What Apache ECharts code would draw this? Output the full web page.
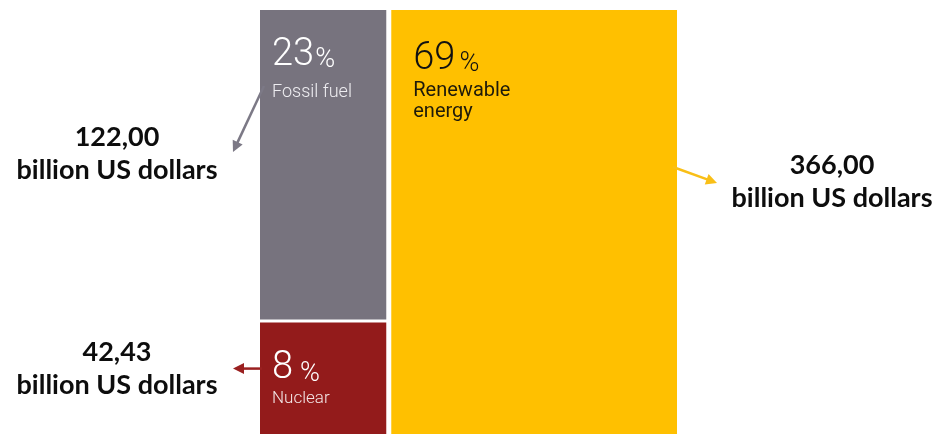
<!DOCTYPE html>
<html>
<head>
<meta charset="utf-8">
<script src="https://cdn.jsdelivr.net/npm/echarts@6/dist/echarts.min.js"></script>
<style>
  html, body { margin: 0; padding: 0; background: #ffffff; }
  #chart { width: 941px; height: 434px; }
</style>
</head>
<body>
<div id="chart"></div>
<script>
// ---- data ----
const categories = ['Fossil fuel', 'Nuclear', 'Renewable energy'];
const boxLabels = ['Fossil fuel', 'Nuclear', 'Renewable\nenergy'];
const valuesBn = [122.00, 42.43, 366.00];
const shareLabels = ['23', '8', '69'];
const amountLabels = ['122,00', '42,43', '366,00'];
const unitLabel = 'billion US dollars';

// ---- styles (per category) ----
const styles = [
  { color: '#77737e', text: '#ffffff', sub: '#eeedf1', arrow: '#7c7986', numWeight: 300, subSize: 18, subWeight: 300,
    inset: [0, 3, 5, 0], pad: 12, numTop: 26, subTop: 72, gap: 1,
    arrowFrom: ['l', 4, 76], arrowTo: ['l', -27, 142], labelDx: -116, labelDy: 2 },
  { color: '#931b1b', text: '#ffffff', sub: '#f3e6e6', arrow: '#9a2020', numWeight: 300, subSize: 17, subWeight: 300,
    inset: [-2, 3, 0, 0], pad: 12, numTop: 27, subTop: 66, gap: 7,
    arrowFrom: ['l', 2, 46], arrowTo: ['l', -27, 46], labelDx: -116, labelDy: 0 },
  { color: '#ffc000', text: '#111111', sub: '#1e1a0a', arrow: '#f9bf17', numWeight: 300, subSize: 20, subWeight: 400,
    inset: [0, 0, 0, 2], pad: 22, numTop: 30, subTop: 70, gap: 4,
    arrowFrom: ['r', -4, 157], arrowTo: ['r', 40, 173], labelDx: 115, labelDy: -1 }
];

// ---- layout built from the values ----
const leftTotal = valuesBn[0] + valuesBn[1];
const total = leftTotal + valuesBn[2];
const split = valuesBn[1] / leftTotal;
const rects = [
  [0, leftTotal, split, 1, 0],
  [0, leftTotal, 0, split, 1],
  [leftTotal, total, 0, 1, 2]
];

function renderItem(params, api) {
  const i = api.value(4);
  const s = styles[i];
  const tl = api.coord([api.value(0), api.value(3)]);
  const br = api.coord([api.value(1), api.value(2)]);
  const x = tl[0] + s.inset[3];
  const y = tl[1] + s.inset[0];
  const w = br[0] - s.inset[1] - x;
  const h = br[1] - s.inset[2] - y;
  const px = (ref) => (ref[0] === 'l' ? x : x + w) + ref[1];
  const from = [px(s.arrowFrom), y + s.arrowFrom[2]];
  const tip = [px(s.arrowTo), y + s.arrowTo[2]];
  const dx = tip[0] - from[0], dy = tip[1] - from[1];
  const len = Math.sqrt(dx * dx + dy * dy);
  const ux = dx / len, uy = dy / len;
  const L = 11, W = 5.5;
  const base = [tip[0] - ux * L, tip[1] - uy * L];
  return {
    type: 'group',
    children: [
      { type: 'rect', shape: { x: x, y: y, width: w, height: h }, style: { fill: s.color } },
      { type: 'text', x: x + s.pad, y: y + s.numTop,
        style: {
          text: '{n|' + shareLabels[i] + '}{p|%}',
          verticalAlign: 'top', align: 'left',
          rich: {
            n: { fontSize: 38, fontFamily: 'Roboto', fontWeight: s.numWeight, lineHeight: 38, verticalAlign: 'bottom', fill: s.text },
            p: { fontSize: 27, fontFamily: 'Roboto', fontWeight: 300, lineHeight: 30, verticalAlign: 'bottom', fill: s.text, padding: [0, 0, 0, s.gap] }
          }
        } },
      { type: 'text', x: x + s.pad, y: y + s.subTop,
        style: { text: boxLabels[i], fontSize: s.subSize, fontFamily: 'Roboto', fontWeight: s.subWeight, lineHeight: 21,
          fill: s.sub, verticalAlign: 'top', align: 'left' } },
      { type: 'line', shape: { x1: from[0], y1: from[1], x2: base[0] + ux * 2, y2: base[1] + uy * 2 },
        style: { stroke: s.arrow, lineWidth: 2.5 } },
      { type: 'polygon', shape: { points: [tip, [base[0] - uy * W, base[1] + ux * W], [base[0] + uy * W, base[1] - ux * W]] },
        style: { fill: s.arrow } },
      { type: 'text', x: tip[0] + s.labelDx, y: tip[1] + s.labelDy,
        style: { text: amountLabels[i] + '\n' + unitLabel, fontSize: 27, fontFamily: 'Lato', fontWeight: 'bold',
          lineHeight: 33, fill: '#0d0d0d', align: 'center', verticalAlign: 'middle' } }
    ]
  };
}

const chart = echarts.init(document.getElementById('chart'), null, { renderer: 'canvas' });
chart.setOption({
  animation: false,
  backgroundColor: '#ffffff',
  grid: { left: 260, right: 264, top: 10, bottom: 0 },
  xAxis: { type: 'value', min: 0, max: total, show: false },
  yAxis: { type: 'value', min: 0, max: 1, show: false },
  series: [{
    type: 'custom',
    name: 'Investment',
    renderItem: renderItem,
    encode: { x: [0, 1], y: [2, 3] },
    clip: false,
    data: rects.map((r, i) => ({ name: categories[i], value: r }))
  }]
});
</script>
</body>
</html>
